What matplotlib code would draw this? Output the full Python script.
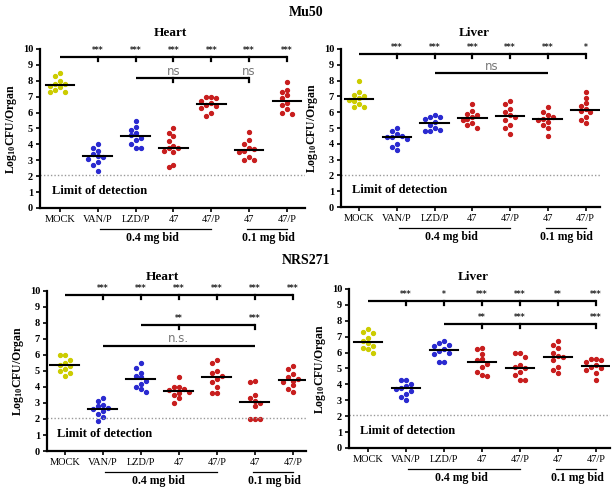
import numpy as np
import matplotlib.pyplot as plt
from matplotlib import transforms

plt.rcParams['font.family'] = ['Liberation Serif', 'DejaVu Serif']
plt.rcParams['mathtext.default'] = 'regular'

groups = ['MOCK', 'VAN/P', 'LZD/P', '47', '47/P', '47', '47/P']
colors = ['#cccc00', '#2a2ad0', '#2a2ad0', '#c81e1e', '#c81e1e', '#c81e1e', '#c81e1e']

# log10 CFU/organ, one list per group
mu50_heart = [
    [8.5, 8.3, 8.0, 7.8, 7.8, 7.7, 7.6, 7.4, 7.3, 7.3],
    [4.0, 3.8, 3.6, 3.4, 3.3, 3.2, 3.1, 2.9, 2.7, 2.3],
    [5.5, 5.1, 4.9, 4.7, 4.6, 4.4, 4.3, 4.0, 3.8, 3.8],
    [5.0, 4.7, 4.5, 4.2, 3.9, 3.8, 3.8, 3.6, 3.5, 2.7, 2.6],
    [7.0, 7.0, 6.9, 6.7, 6.6, 6.5, 6.4, 6.3, 6.0, 5.8],
    [4.8, 4.3, 4.0, 3.8, 3.7, 3.6, 3.5, 3.2, 3.0, 3.0],
    [7.9, 7.4, 7.3, 7.1, 6.9, 6.6, 6.5, 6.2, 6.0, 5.9],
]
mu50_liver = [
    [8.0, 7.3, 7.1, 7.0, 6.9, 6.8, 6.7, 6.5, 6.3, 6.3],
    [5.0, 4.8, 4.6, 4.5, 4.4, 4.4, 4.3, 4.0, 3.8, 3.6],
    [5.8, 5.7, 5.7, 5.6, 5.4, 5.2, 5.0, 4.9, 4.8, 4.8],
    [6.5, 6.1, 5.9, 5.8, 5.7, 5.6, 5.5, 5.3, 5.2, 5.0],
    [6.7, 6.5, 6.2, 6.0, 5.8, 5.7, 5.5, 5.2, 5.0, 4.6],
    [6.3, 6.0, 5.8, 5.7, 5.6, 5.5, 5.4, 5.2, 5.0, 4.5],
    [7.3, 6.9, 6.6, 6.4, 6.2, 6.1, 6.0, 5.7, 5.5, 5.3],
]
nrs_heart = [
    [6.0, 6.0, 5.7, 5.5, 5.4, 5.3, 5.1, 5.0, 4.9, 4.7],
    [3.3, 3.1, 2.9, 2.8, 2.7, 2.6, 2.5, 2.3, 2.1, 1.9],
    [5.5, 5.2, 4.9, 4.7, 4.6, 4.4, 4.2, 4.0, 3.9, 3.7],
    [4.6, 4.0, 4.0, 3.9, 3.8, 3.7, 3.6, 3.5, 3.3, 3.0],
    [5.7, 5.5, 5.0, 4.9, 4.7, 4.5, 4.3, 4.0, 3.6, 3.6],
    [4.4, 4.3, 3.5, 3.3, 3.1, 3.0, 2.8, 2.0, 2.0, 2.0],
    [5.3, 5.1, 4.8, 4.6, 4.5, 4.4, 4.3, 4.1, 3.9, 3.7],
]
nrs_liver = [
    [7.5, 7.3, 7.2, 6.9, 6.7, 6.6, 6.4, 6.3, 6.2, 6.0],
    [4.3, 4.3, 4.0, 3.9, 3.8, 3.7, 3.6, 3.4, 3.2, 3.0],
    [6.7, 6.6, 6.5, 6.4, 6.2, 6.1, 6.0, 5.9, 5.4, 5.4],
    [6.3, 6.2, 5.9, 5.6, 5.5, 5.3, 5.1, 4.8, 4.6, 4.5],
    [6.0, 6.0, 5.7, 5.2, 5.1, 5.0, 4.8, 4.6, 4.3, 4.3],
    [6.7, 6.5, 6.3, 6.0, 5.8, 5.7, 5.5, 5.1, 4.9, 4.7],
    [5.6, 5.6, 5.5, 5.4, 5.2, 5.1, 5.0, 4.9, 4.7, 4.3],
]

# significance vs MOCK (groups 1..6)
mu50_heart_stars = ['***', '***', '***', '***', '***', '***']
mu50_liver_stars = ['***', '***', '***', '***', '***', '*']
nrs_heart_stars = ['***', '***', '***', '***', '***', '***']
nrs_liver_stars = ['***', '*', '***', '***', '**', '***']

limit_of_detection = 2.05


def swarm(vals, step=0.13, dy=0.3):
    placed = []
    offs = []
    cands = [0, -step, step, -2 * step, 2 * step, -3 * step, 3 * step]
    for v in vals:
        off = cands[-1]
        for c in cands:
            if all(abs(c - px) > step * 0.9 or abs(v - pv) > dy for px, pv in placed):
                off = c
                break
        placed.append((off, v))
        offs.append(off)
    return offs


def sig_bar(ax, y, x0, x1, ticks, notes, tick_len=0.25):
    ax.plot([x0, x1], [y, y], color='black', lw=1.6, clip_on=False,
            solid_capstyle='butt')
    for x, lab in ticks:
        ax.plot([x, x], [y, y - tick_len], color='black', lw=1.6, clip_on=False)
        draw_note(ax, x, y, lab)
    for x, lab in notes:
        draw_note(ax, x, y, lab)


def draw_note(ax, x, y, lab):
    if lab.startswith('n'):
        ax.text(x, y + 0.05, lab, ha='center', va='bottom', fontsize=8.5,
                color='#777777', family='DejaVu Sans')
    else:
        ax.text(x, y + 0.12, lab, ha='center', va='bottom', fontsize=5.5,
                color='#222222', family='DejaVu Sans', fontweight='bold')


def draw_panel(rect, xlim, data, title, title_xy, top_y, stars, subs):
    ax = fig.add_axes(rect)
    for i, vals in enumerate(data):
        offs = swarm(vals)
        ax.plot(np.array(offs) + i, vals, 'o', ms=2.8, color=colors[i],
                mec=colors[i], clip_on=False)
        med = np.median(vals)
        ax.plot([i - 0.38, i + 0.38], [med, med], color='black', lw=1.5)
    ax.axhline(limit_of_detection, color='#999999', lw=1.0, ls=(0, (1, 1.5)))
    ax.text(-0.2, 1.05, 'Limit of detection', ha='left', va='center',
            fontsize=9, fontweight='bold')

    sig_bar(ax, top_y, 0, 6, [(i + 1, s) for i, s in enumerate(stars)], [])
    for s in subs:
        sig_bar(ax, *s)

    ax.set_xlim(*xlim)
    ax.set_ylim(0, 10)
    ax.set_yticks(range(0, 11))
    ax.set_yticklabels([str(v) for v in range(0, 11)], fontsize=7.5,
                       fontweight='bold')
    ax.set_xticks(range(7))
    ax.set_xticklabels(groups, fontsize=7.5)
    ax.tick_params(axis='both', length=3, width=1.2, pad=2)
    ax.spines['top'].set_visible(False)
    ax.spines['right'].set_visible(False)
    ax.spines['left'].set_linewidth(1.6)
    ax.spines['bottom'].set_linewidth(1.6)
    ax.set_ylabel('Log$_{10}$CFU/Organ', fontsize=8.5, fontweight='bold',
                  labelpad=3)

    tr = transforms.blended_transform_factory(ax.transData, ax.transAxes)
    ax.plot([1.05, 4.0], [-0.13, -0.13], color='black', lw=0.9,
            transform=tr, clip_on=False)
    ax.plot([4.95, 6.0], [-0.13, -0.13], color='black', lw=0.9,
            transform=tr, clip_on=False)
    ax.text(2.45, -0.19, '0.4 mg bid', transform=tr, ha='center', va='center',
            fontsize=8.5, fontweight='bold')
    ax.text(5.5, -0.19, '0.1 mg bid', transform=tr, ha='center', va='center',
            fontsize=8.5, fontweight='bold')
    fig.text(title_xy[0], title_xy[1], title, ha='center', va='center',
             fontsize=9.5, fontweight='bold')
    return ax


fig = plt.figure(figsize=(6.12, 4.88), dpi=100)

draw_panel([0.0654, 0.5738, 0.433, 0.3258], (-0.53, 6.48), mu50_heart, 'Heart',
           (0.278, 0.932), 9.5, mu50_heart_stars,
           [(8.15, 2, 5, [(3, 'ns'), (5, 'ns')], [])])
draw_panel([0.5572, 0.5758, 0.423, 0.3238], (-0.48, 6.38), mu50_liver, 'Liver',
           (0.775, 0.932), 9.7, mu50_liver_stars,
           [(8.45, 2, 5, [], [(3.5, 'ns')])])
draw_panel([0.0768, 0.0758, 0.423, 0.328], (-0.47, 6.34), nrs_heart, 'Heart',
           (0.266, 0.432), 9.73, nrs_heart_stars,
           [(7.85, 2, 5, [(3, '**'), (5, '***')], []),
            (6.55, 1, 5, [], [(3, 'n.s.')])])
draw_panel([0.5703, 0.082, 0.4265, 0.326], (-0.5, 6.37), nrs_liver, 'Liver',
           (0.773, 0.432), 9.23, nrs_liver_stars,
           [(7.8, 2, 6, [(3, '**'), (4, '***'), (6, '***')], [])])

fig.text(0.5, 0.975, 'Mu50', ha='center', va='center', fontsize=10,
         fontweight='bold')
fig.text(0.5, 0.467, 'NRS271', ha='center', va='center', fontsize=10,
         fontweight='bold')

fig.savefig('out.png', dpi=100)
